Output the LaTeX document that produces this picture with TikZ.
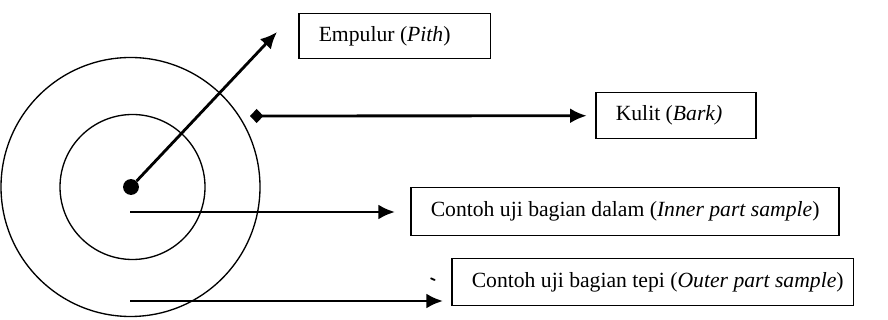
\documentclass[tikz,border=0pt]{standalone}
\usepackage{fontspec}
\setmainfont{Liberation Serif}
\usetikzlibrary{positioning,arrows.meta}

\newcommand{\boxtext}[2]{\makebox[#1][l]{#2}}

\tikzset{
  partbox/.style={rectangle, draw, line width=0.9pt, anchor=north west, inner xsep=12pt, inner ysep=0pt, font=\fontsize{13}{15}\selectfont},
  pointer/.style={line width=1.7pt, -{Latex[length=10pt,width=9pt]}}
}

\begin{document}
\begin{tikzpicture}[x=0.6pt, y=-0.6pt]
        \useasboundingbox (0,0) rectangle (888,320);

        % the stem cut
        \draw[line width=0.8pt] (130.5,187) circle[radius=77.7pt];
        \draw[line width=0.8pt] (132.5,187) circle[radius=43.5pt];
        \node[circle, fill, inner sep=0pt, minimum size=9.5pt] (pith) at (131,187) {};

        \node[partbox, minimum height=27pt] (empulur) at (298,13) {\boxtext{91pt}{Empulur (\textit{Pith})}};
        \node[partbox, minimum height=27.6pt] (kulit) at (595,92) {\boxtext{72pt}{Kulit (\textit{Bark)}}};
        \node[partbox, minimum height=28.8pt] (dalam) at (410,187) {\boxtext{233pt}{Contoh uji bagian dalam (\textit{Inner part sample})}};
        \node[partbox, minimum height=28.2pt] (tepi) at (451,258) {\boxtext{217pt}{Contoh uji bagian tepi (\textit{Outer part sample})}};
        \node[font=\ttfamily\bfseries\fontsize{14}{16}\selectfont, inner sep=0pt] (tick) at (433,285) {`};

        \coordinate (pithend) at (277,32);
        \coordinate (barkstart) at (250,116);
        \coordinate (innerstart) at (130,212);
        \coordinate (outerstart) at (130,301);
        \coordinate (outerend) at (443,301);

        \draw[pointer] (pith) -- (pithend);
        \draw[pointer, {Diamond[length=8pt,width=8.5pt]}-{Latex[length=10pt,width=9pt]}, shorten >=5pt] (barkstart) -- (kulit.west);
        \draw[pointer, shorten >=9pt] (innerstart) -- (innerstart -| dalam.west);
        \draw[pointer] (outerstart) -- (outerend);
      \end{tikzpicture}
\end{document}
